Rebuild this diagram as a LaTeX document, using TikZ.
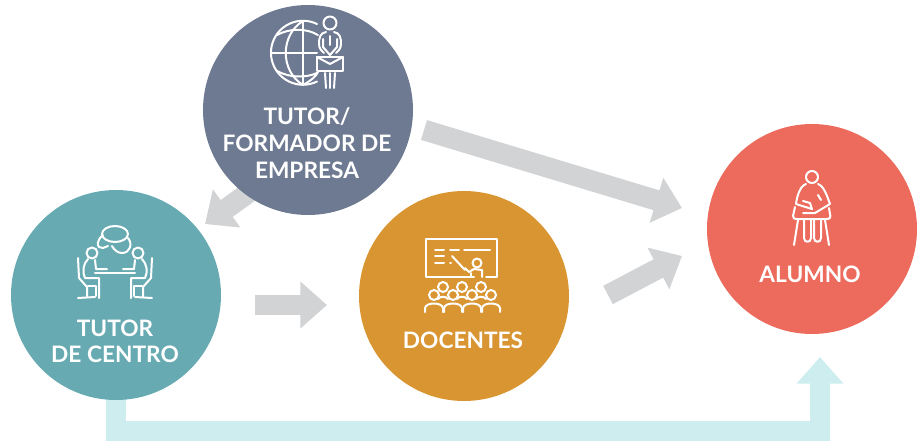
\documentclass[tikz,border=0pt]{standalone}
\usepackage{fontspec}
\setmainfont{Lato}
\usepackage{xcolor}
\usetikzlibrary{arrows.meta}
\definecolor{tutorblue}{HTML}{6E7A92}
\definecolor{centroteal}{HTML}{67AAB2}
\definecolor{docorange}{HTML}{D99531}
\definecolor{alumnored}{HTML}{EC6B5C}
\definecolor{flowgray}{HTML}{D1D3D4}
\definecolor{flowcyan}{HTML}{CDEDEE}
\tikzset{
	blob/.style={circle,inner sep=0pt,minimum size=157.5pt},
	lbl/.style={text=white,font=\fontsize{17}{20.5}\selectfont\bfseries,align=center},
	flow/.style={line width=15.5pt,-{Triangle[length=20pt,width=34pt]}},
	ico/.style={draw=white,line width=1.5pt,line cap=round,line join=round}
}
\begin{document}
\begin{tikzpicture}[x=0.75pt,y=-0.75pt]
		\useasboundingbox (0,0) rectangle (918,443);
		\coordinate (botA) at (116,390);
		\coordinate (botB) at (820,357);
		\draw[flow,flowcyan] (botA) -- (116,431) -- (820,431) -- (botB);
		%
		\coordinate (a1) at (424,130);
		\coordinate (a2) at (682,208);
		\coordinate (b1) at (262,183);
		\coordinate (b2) at (205,224);
		\coordinate (c1) at (255,305);
		\coordinate (c2) at (327,305);
		\coordinate (d1) at (608,295);
		\coordinate (d2) at (682,256);
		\draw[flow,flowgray] (a1) -- (a2);
		\draw[flow,flowgray] (b1) -- (b2);
		\draw[flow,flowgray] (c1) -- (c2);
		\draw[flow,flowgray] (d1) -- (d2);
		%
		\node[blob,fill=tutorblue] (tutor) at (308,110) {};
		\node[blob,fill=centroteal] (centro) at (116,295) {};
		\node[blob,fill=docorange] (docentes) at (464,296) {};
		\node[blob,fill=alumnored] (alumno) at (812,229) {};
		%
		\node[lbl] (tutorlbl) at (307,143) {TUTOR/\\FORMADOR DE\\EMPRESA};
		\node[lbl,font=\fontsize{17}{19.5}\selectfont\bfseries] (centrolbl) at (115,341) {TUTOR\\DE CENTRO};
		\node[lbl] (doclbl) at (463,340) {DOCENTES};
		\node[lbl] (alumnolbl) at (810,274) {ALUMNO};
		%
		% globe and tutor
		\draw[ico] (317,24) arc[start angle=-64,end angle=-296,radius=32];
		\draw[ico] (303,21) .. controls (280,35) and (280,71) .. (303,85) .. controls (312,80) and (316,76) .. (318,72);
		\draw[ico] (303,21) -- (303,85);
		\draw[ico] (271,53) -- (317,53);
		\draw[ico] (277,35) .. controls (290,28) and (306,28) .. (318,35);
		\draw[ico] (277,71) .. controls (290,78) and (306,78) .. (317,73);
		\draw[ico] (330,23) circle[radius=6.5];
		\draw[ico] (326,32) .. controls (320,33) and (319,38) .. (319,44) .. controls (319,49) and (322,51) .. (324,53);
		\draw[ico] (334,32) .. controls (340,33) and (341,38) .. (341,44) .. controls (341,49) and (338,51) .. (336,53);
		\draw[ico] (323,39) -- (323,47) -- (330,55) -- (337,47) -- (337,39);
		\draw[ico] (330,36) -- (330,45);
		\draw[ico] (317,57) rectangle (343,71);
		\draw[ico] (317,57) -- (330,64) -- (343,57);
		\draw[ico] (325,73) -- (326,88);
		\draw[ico] (330,73) -- (330,88);
		\draw[ico] (335,73) -- (334,88);
		%
		% two people at a table
		\draw[ico] (115,234) ellipse[x radius=13,y radius=8];
		\draw[ico] (103,235) .. controls (97,240) and (97,245) .. (99,247) -- (103,248) -- (108,246);
		\draw[ico] (128,238) .. controls (133,244) and (130,253) .. (122,253) .. controls (118,253) and (114,250) .. (112,246);
		\foreach \sgn in {-1,1} {
			\begin{scope}[shift={(115,0)},xscale=\sgn]
				\draw[ico] (-23,253) circle[radius=5.5];
				\draw[ico] (-27,259) .. controls (-32,264) and (-33,272) .. (-30,278) -- (-16,278) -- (-16,298);
				\draw[ico] (-20,260) -- (-19,269) -- (-8,269);
				\draw[ico] (-27,286) -- (-19,286) -- (-19,296);
				\draw[ico] (-37,258) -- (-36,278) -- (-28,287) -- (-28,297);
				\draw[ico] (-37,298) -- (-20,297);
				\draw[ico] (-20,273) -- (0,273);
			\end{scope}
		}
		%
		% teacher and class
		\draw[ico] (474,277) -- (426,277) -- (426,239) -- (497,239) -- (497,277) -- (486,277);
		\draw[ico] (435,250) -- (444,250);
		\draw[ico] (450,250) -- (459,250);
		\draw[ico] (464,250) -- (490,250);
		\draw[ico] (435,256) -- (444,256);
		\draw[ico] (435,263) -- (444,263);
		\draw[ico] (450,263) -- (451,263);
		\draw[ico] (452,256) -- (465,270);
		\draw[ico] (477,263) circle[radius=4.5];
		\draw[ico] (482,277) -- (482,270) -- (474,269) -- (469,272) -- (465,268);
		\draw[ico] (471,277) -- (471,273);
		\foreach \hx in {443,462,481} {
			\draw[ico] (\hx,287) circle[radius=5];
			\draw[ico] (\hx-5,299) .. controls (\hx-3,296) and (\hx+3,296) .. (\hx+5,299);
		}
		\foreach \hx in {434,453,472,491} {
			\draw[ico] (\hx,295) circle[radius=5];
			\draw[ico] (\hx-9,312) -- (\hx-9,308) .. controls (\hx-8,302) and (\hx+8,302) .. (\hx+9,308) -- (\hx+9,312);
		}
		%
		% student on a stool
		\draw[ico] (812,177) circle[radius=6];
		\draw[ico] (806,184) .. controls (800,186) and (797,196) .. (796,204) -- (812,209) -- (810,203) -- (803,201);
		\draw[ico] (818,184) .. controls (824,186) and (827,196) .. (830,204) -- (815,213) -- (803,213);
		\draw[ico] (818,195) -- (821,200);
		\draw[ico] (795,207) -- (793,216) .. controls (793,219) and (795,219) .. (797,219) -- (827,219) .. controls (830,219) and (831,217) .. (830,214) -- (829,208);
		\draw[ico] (798,220) -- (794,245);
		\draw[ico] (825,220) -- (829,245);
		\draw[ico] (804,220) -- (804,238) .. controls (804,243) and (811,243) .. (811,238) -- (811,220);
		\draw[ico] (814,220) -- (814,238) .. controls (814,243) and (821,243) .. (821,238) -- (821,220);
\end{tikzpicture}
\end{document}
